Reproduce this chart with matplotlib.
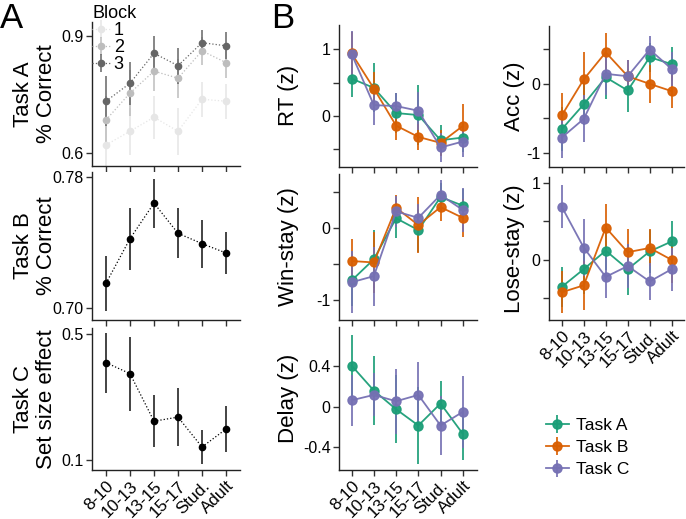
import matplotlib
matplotlib.use("Agg")
import matplotlib.pyplot as plt
import numpy as np

plt.rcParams['font.family'] = ['Liberation Sans', 'DejaVu Sans']

ages = ["8-10", "10-13", "13-15", "15-17", "Stud.", "Adult"]
x = np.arange(len(ages))

# Panel A: Task A % correct by block
blocks = ["1", "2", "3"]
block_colors = ["#e6e6e6", "#bdbdbd", "#666666"]
taskA_mean = [
    [0.621, 0.656, 0.692, 0.656, 0.738, 0.733],
    [0.685, 0.754, 0.810, 0.792, 0.862, 0.832],
    [0.733, 0.779, 0.856, 0.824, 0.883, 0.875],
]
taskA_err = [
    [0.060, 0.060, 0.055, 0.060, 0.045, 0.045],
    [0.062, 0.058, 0.050, 0.050, 0.035, 0.040],
    [0.064, 0.055, 0.044, 0.046, 0.032, 0.035],
]

taskB_mean = [0.7151, 0.7423, 0.7640, 0.7456, 0.7393, 0.7336]
taskB_err = [0.0167, 0.0190, 0.0150, 0.0153, 0.0146, 0.0126]

taskC_mean = [0.409, 0.374, 0.223, 0.236, 0.141, 0.198]
taskC_err = [0.095, 0.118, 0.083, 0.093, 0.053, 0.074]

# Panel B: model parameters (z-scored)
tasks = ["Task A", "Task B", "Task C"]
task_colors = ["#1b9e77", "#d95f02", "#7570b3"]

rt_mean = {
    "Task A": [0.56, 0.42, 0.04, 0.01, -0.37, -0.33],
    "Task B": [0.94, 0.41, -0.15, -0.32, -0.41, -0.155],
    "Task C": [0.93, 0.16, 0.146, 0.075, -0.48, -0.39],
}
rt_err = {
    "Task A": [0.27, 0.37, 0.30, 0.45, 0.23, 0.22],
    "Task B": [0.33, 0.25, 0.22, 0.20, 0.20, 0.33],
    "Task C": [0.35, 0.30, 0.20, 0.29, 0.22, 0.23],
}
acc_mean = {
    "Task A": [-0.66, -0.30, 0.09, -0.10, 0.38, 0.28],
    "Task B": [-0.46, 0.06, 0.45, 0.105, -0.005, -0.11],
    "Task C": [-0.78, -0.51, 0.14, 0.105, 0.49, 0.21],
}
acc_err = {
    "Task A": [0.32, 0.30, 0.32, 0.31, 0.21, 0.24],
    "Task B": [0.32, 0.39, 0.28, 0.24, 0.27, 0.24],
    "Task C": [0.30, 0.34, 0.30, 0.23, 0.19, 0.25],
}
winstay_mean = {
    "Task A": [-0.73, -0.435, 0.135, -0.03, 0.43, 0.31],
    "Task B": [-0.46, -0.48, 0.28, 0.04, 0.29, 0.14],
    "Task C": [-0.755, -0.67, 0.23, 0.14, 0.46, 0.25],
}
winstay_err = {
    "Task A": [0.36, 0.40, 0.28, 0.30, 0.19, 0.23],
    "Task B": [0.30, 0.43, 0.18, 0.39, 0.20, 0.26],
    "Task C": [0.43, 0.41, 0.22, 0.19, 0.20, 0.30],
}
losestay_mean = {
    "Task A": [-0.35, -0.12, 0.12, -0.12, 0.11, 0.24],
    "Task B": [-0.42, -0.33, 0.42, 0.10, 0.155, 0.0],
    "Task C": [0.69, 0.16, -0.22, -0.08, -0.28, -0.12],
}
losestay_err = {
    "Task A": [0.26, 0.32, 0.25, 0.33, 0.28, 0.26],
    "Task B": [0.27, 0.32, 0.30, 0.30, 0.24, 0.30],
    "Task C": [0.28, 0.37, 0.28, 0.28, 0.24, 0.28],
}
delay_mean = {
    "Task A": [0.40, 0.156, -0.026, -0.185, 0.03, -0.266],
    "Task C": [0.062, 0.114, 0.052, 0.114, -0.185, -0.052],
}
delay_err = {
    "Task A": [0.30, 0.34, 0.33, 0.375, 0.22, 0.26],
    "Task C": [0.25, 0.21, 0.32, 0.32, 0.29, 0.35],
}

W, H = 686, 519
fig = plt.figure(figsize=(W / 100, H / 100), dpi=100)


def add_ax(left, top, right, bottom):
    return fig.add_axes([left / W, 1 - bottom / H, (right - left) / W, (bottom - top) / H])


def style(ax, xlim, ylim, yticks, yticklabels, show_x):
    for s in ["top", "right"]:
        ax.spines[s].set_visible(False)
    for s in ["left", "bottom"]:
        ax.spines[s].set_linewidth(1.0)
        ax.spines[s].set_color("#222222")
    ax.set_xlim(*xlim)
    ax.set_ylim(*ylim)
    ax.set_xticks(x)
    ax.set_yticks(yticks)
    ax.set_yticklabels(yticklabels)
    ax.tick_params(direction="out", length=4, width=1.0, color="#333333",
                   labelsize=11.5, pad=2)
    if show_x:
        ax.set_xticklabels(ages, rotation=45, ha="right", rotation_mode="anchor",
                           fontsize=12.3)
    else:
        ax.set_xticklabels([])


# ---------------- Panel A ----------------
xlimA = (-0.583, 5.583)
axA1 = add_ax(92, 22, 240, 166)
for lab, col, m, e in zip(blocks, block_colors, taskA_mean, taskA_err):
    axA1.errorbar(x, m, yerr=e, color=col, ecolor=col, marker="o", markersize=4.5,
                  linestyle=":", linewidth=0.9, elinewidth=1.1, capsize=0, label=lab)
style(axA1, xlimA, (0.567, 0.936), [0.6, 0.9], ["0.6", "0.9"], False)
axA1.set_ylabel("Task A\n% Correct", fontsize=16, linespacing=1.15)
leg = axA1.legend(title="Block", loc="upper left", bbox_to_anchor=(92 / W, 1 - 5 / H),
                  bbox_transform=fig.transFigure, frameon=False, fontsize=13,
                  title_fontsize=13, handlelength=1.0, handletextpad=0.2,
                  labelspacing=0.0, borderpad=0, borderaxespad=0)
leg._legend_box.align = "left"

axA2 = add_ax(92, 172, 240, 320)
axA2.errorbar(x, taskB_mean, yerr=taskB_err, color="black", ecolor="#111111",
              marker="o", markersize=4.5, linestyle=":", linewidth=0.9,
              elinewidth=1.1, capsize=0)
style(axA2, xlimA, (0.6927, 0.783), [0.70, 0.78], ["0.70", "0.78"], False)
axA2.set_ylabel("Task B\n% Correct", fontsize=16, linespacing=1.15)

axA3 = add_ax(92, 328, 240, 470)
axA3.errorbar(x, taskC_mean, yerr=taskC_err, color="black", ecolor="#111111",
              marker="o", markersize=4.5, linestyle=":", linewidth=0.9,
              elinewidth=1.1, capsize=0)
style(axA3, xlimA, (0.068, 0.519), [0.1, 0.5], ["0.1", "0.5"], True)
axA3.set_ylabel("Task C\nSet size effect", fontsize=16, linespacing=1.15)

for ax in (axA1, axA2, axA3):
    ax.yaxis.set_label_coords(-0.235, 0.5)

# ---------------- Panel B ----------------
xlimL = (-0.57, 5.64)
xlimR = (-0.58, 5.56)


def draw_tasks(ax, means, errs):
    for t, c in zip(tasks, task_colors):
        if t not in means:
            continue
        ax.errorbar(x, means[t], yerr=errs[t], color=c, ecolor=c, marker="o",
                    markersize=6.5, linewidth=1.3, elinewidth=1.3, capsize=0,
                    alpha=0.95, label=t)


axRT = add_ax(339, 25, 477, 166.7)
draw_tasks(axRT, rt_mean, rt_err)
style(axRT, xlimL, (-0.77, 1.37), [-0.5, 0, 0.5, 1], ["", "0", "", "1"], False)
axRT.set_ylabel("RT (z)", fontsize=16)

axAcc = add_ax(549, 26, 684, 166.7)
draw_tasks(axAcc, acc_mean, acc_err)
style(axAcc, xlimR, (-1.2, 0.83), [-1, -0.5, 0, 0.5], ["-1", "", "0", ""], False)
axAcc.set_ylabel("Acc (z)", fontsize=16)

axWS = add_ax(339, 174, 477, 320)
draw_tasks(axWS, winstay_mean, winstay_err)
style(axWS, xlimL, (-1.28, 0.75), [-1, -0.5, 0, 0.5], ["-1", "", "0", ""], False)
axWS.set_ylabel("Win-stay (z)", fontsize=16)

axLS = add_ax(549, 176.7, 684, 320)
draw_tasks(axLS, losestay_mean, losestay_err)
style(axLS, xlimR, (-0.78, 1.08), [-0.5, 0, 0.5, 1], ["", "0", "", "1"], True)
axLS.set_ylabel("Lose-stay (z)", fontsize=16)

axD = add_ax(339, 327.3, 477, 470)
draw_tasks(axD, delay_mean, delay_err)
style(axD, xlimL, (-0.62, 0.775), [-0.4, 0, 0.4], ["-0.4", "0", "0.4"], True)
axD.set_ylabel("Delay (z)", fontsize=16)

for ax in (axRT, axWS, axD):
    ax.yaxis.set_label_coords(-0.29, 0.5)
for ax in (axAcc, axLS):
    ax.yaxis.set_label_coords(-0.18, 0.5)

handles, labels = axRT.get_legend_handles_labels()
fig.legend(handles, labels, loc="upper left", bbox_to_anchor=(546 / W, 1 - 418 / H),
           frameon=False, fontsize=12.5, handlelength=1.3, handletextpad=0.4,
           labelspacing=0.4, borderpad=0, borderaxespad=0)

fig.text(0 / W, 1 - 2 / H, "A", fontsize=25, va="top", ha="left")
fig.text(271 / W, 1 - 2 / H, "B", fontsize=25, va="top", ha="left")

fig.savefig("out.png", dpi=100)
